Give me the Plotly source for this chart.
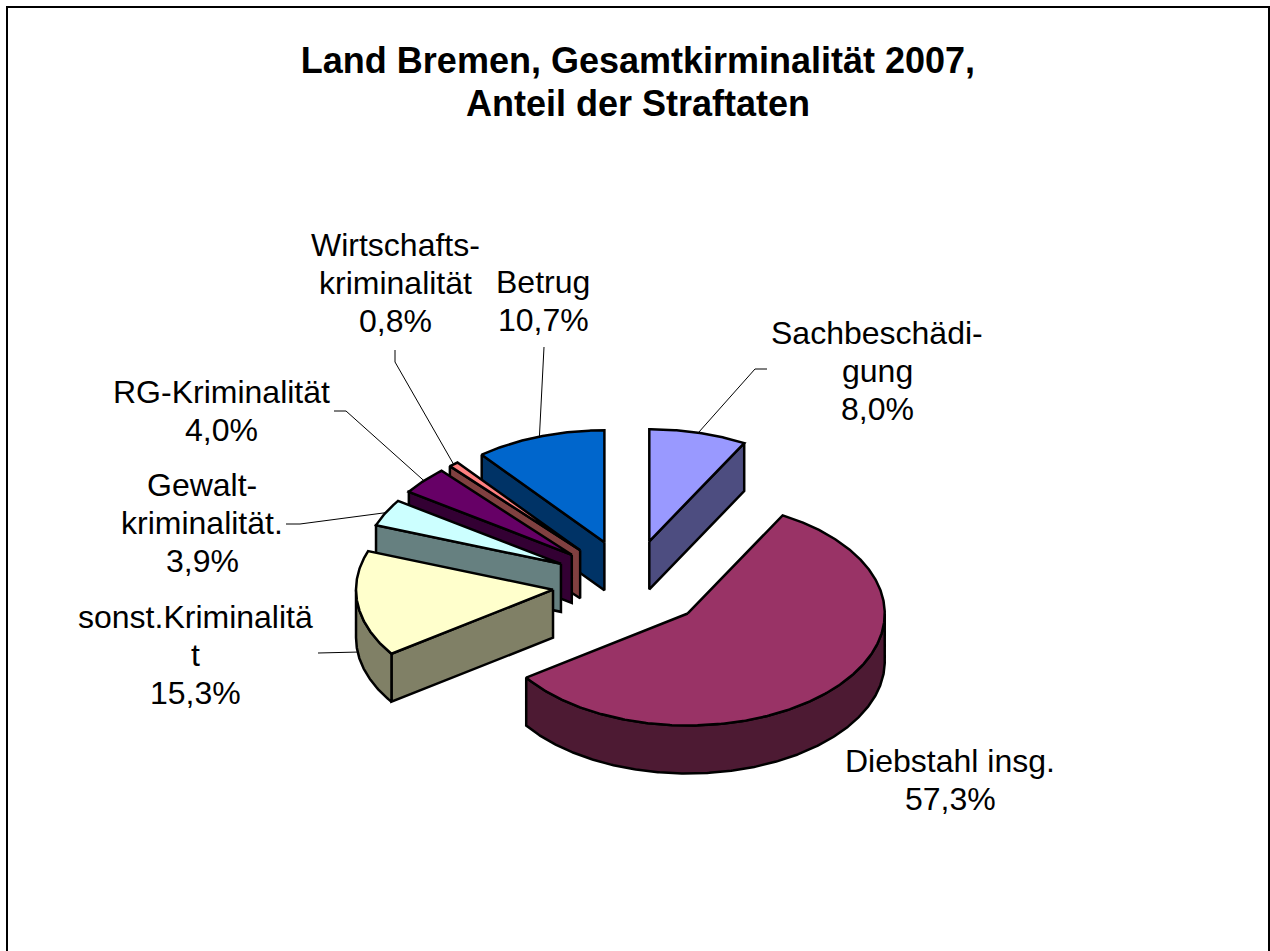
import math
import plotly.graph_objects as go

# Data, in the chart's clockwise order starting at 12 o'clock
categories = [["Sachbeschädi-", "gung"], ["Diebstahl insg."], ["sonst.Kriminalitä", "t"],
              ["Gewalt-", "kriminalität."], ["RG-Kriminalität"],
              ["Wirtschafts-", "kriminalität"], ["Betrug"]]
values = [8.0, 57.3, 15.3, 3.9, 4.0, 0.8, 10.7]
value_labels = ["8,0%", "57,3%", "15,3%", "3,9%", "4,0%", "0,8%", "10,7%"]
title_lines = ["Land Bremen, Gesamtkirminalität 2007,", "Anteil der Straftaten"]

top_colors = ["#9999FF", "#993366", "#FFFFCC", "#CCFFFF", "#660066", "#FF8080", "#0066CC"]
side_colors = ["#4D4D80", "#4D1A33", "#808066", "#668080", "#330033", "#804040", "#003366"]

W, H = 1270, 951
CX, CY, RX, RY, DEPTH, EXPLODE = 630, 584, 197, 112, 48, 0.394
FONT = "Liberation Sans, Arial, sans-serif"
LINE_GAP = 38

# paint order: back to front
paint_order = [0, 6, 5, 4, 3, 2, 1]

# centre x and first-line centre y of each label
label_pos = [(877, 333), (950, 761), (195, 617), (202, 485), (221, 392), (395, 245), (543, 282)]
leader_rest = [[(755, 369), (767, 369)], None, [(318, 653)], [(300, 524), (286, 524)],
               [(346, 411), (334, 411)], [(395, 362), (395, 350)], [(544, 347)]]


def pt(apex, deg):
    a = math.radians(deg)
    return apex[0] + RX * math.sin(a), apex[1] - RY * math.cos(a)


def arc(apex, a0, a1):
    n = max(2, int(abs(a1 - a0) * 2) + 2)
    return [pt(apex, a0 + (a1 - a0) * i / (n - 1)) for i in range(n)]


fig = go.Figure()


def poly(points, color):
    fig.add_trace(go.Scatter(
        x=[p[0] for p in points] + [points[0][0]],
        y=[p[1] for p in points] + [points[0][1]],
        mode="lines", fill="toself", fillcolor=color,
        line=dict(color="#000000", width=2.5), hoverinfo="skip", showlegend=False))


def down(points):
    return [(x, y + DEPTH) for x, y in points]


# slice bounds
starts, acc = [], 0.0
for v in values:
    starts.append(acc)
    acc += v * 3.6

apexes = []
for s, v in zip(starts, values):
    m = math.radians(s + v * 1.8)
    apexes.append((CX + EXPLODE * RX * math.sin(m), CY - EXPLODE * RY * math.cos(m)))

annotations = []

# leader lines underneath
for i, rest in enumerate(leader_rest):
    if rest is None:
        continue
    m = starts[i] + values[i] * 1.8
    x0, y0 = pt(apexes[i], m)
    if 90 < m < 270:
        y0 += DEPTH
    fig.add_trace(go.Scatter(
        x=[x0] + [p[0] for p in rest], y=[y0] + [p[1] for p in rest],
        mode="lines", line=dict(color="#000000", width=1), hoverinfo="skip", showlegend=False))

for i in paint_order:
    a0, a1 = starts[i], starts[i] + values[i] * 3.6
    apex, top, side = apexes[i], top_colors[i], side_colors[i]
    sa0, ca1 = math.sin(math.radians(a0)), math.sin(math.radians(a1))
    # visible cut faces
    if sa0 < -1e-6:
        e = pt(apex, a0)
        poly([apex, e] + down([e, apex]), side)
    if ca1 > 1e-6:
        e = pt(apex, a1)
        poly([apex, e] + down([e, apex]), side)
    # visible outer wall
    w0, w1 = max(a0, 90), min(a1, 270)
    if w1 > w0:
        edge = arc(apex, w0, w1)
        poly(edge + down(edge)[::-1], side)
    # top surface
    poly([apex] + arc(apex, a0, a1), top)

for cat, val, (lx, ly) in zip(categories, value_labels, label_pos):
    for k, line in enumerate(cat + [val]):
        annotations.append(dict(
            x=lx, y=ly + k * LINE_GAP, xref="x", yref="y", text=line, showarrow=False,
            xanchor="center", yanchor="middle", align="center",
            font=dict(family=FONT, size=32, color="#000000")))

annotations.append(dict(
    x=638, y=103, xref="x", yref="y", text=f"<b>{title_lines[1]}</b>", showarrow=False,
    xanchor="center", yanchor="middle",
    font=dict(family=FONT, size=36, color="#000000")))

fig.update_layout(
    width=W, height=H, autosize=False,
    margin=dict(l=0, r=0, t=0, b=0),
    paper_bgcolor="#FFFFFF", plot_bgcolor="#FFFFFF", showlegend=False,
    title=dict(text=f"<b>{title_lines[0]}</b>",
               x=638 / W, xanchor="center", y=1 - 60 / H, yanchor="middle",
               font=dict(family=FONT, size=36, color="#000000")),
    xaxis=dict(range=[0, W], visible=False, fixedrange=True),
    yaxis=dict(range=[H, 0], visible=False, fixedrange=True),
    annotations=annotations,
    shapes=[dict(type="rect", xref="x", yref="y", x0=7, y0=7, x1=1269, y1=H + 10,
                 line=dict(color="#000000", width=2), layer="below")],
)

fig.write_html("out.html", config=dict(displayModeBar=False),
               post_script="document.body.style.margin='0';document.documentElement.style.overflow='hidden';")
